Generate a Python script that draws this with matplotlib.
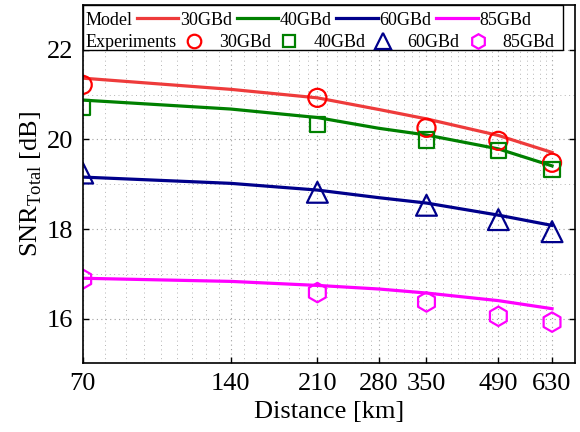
import numpy as np
import matplotlib
matplotlib.use('Agg')
import matplotlib.pyplot as plt
from matplotlib.lines import Line2D
from matplotlib.patches import Rectangle
from matplotlib.ticker import FixedLocator, NullFormatter

plt.rcParams['font.family'] = ['Liberation Serif', 'DejaVu Serif']
plt.rcParams['mathtext.fontset'] = 'custom'
plt.rcParams['mathtext.rm'] = 'Liberation Serif'

# model curves (distance in km, SNR in dB)
dist_model = [70, 140, 210, 280, 350, 490, 630]
model_30 = [21.37, 21.12, 20.93, 20.67, 20.46, 20.09, 19.71]
model_40 = [20.88, 20.68, 20.49, 20.25, 20.10, 19.79, 19.41]
model_60 = [19.16, 19.02, 18.87, 18.70, 18.58, 18.31, 18.08]
model_85 = [16.90, 16.83, 16.74, 16.66, 16.57, 16.40, 16.22]

# measured points
dist_exp = [70, 210, 350, 490, 630]
exp_30 = [21.22, 20.93, 20.26, 19.97, 19.48]
exp_40 = [20.71, 20.33, 19.99, 19.76, 19.33]
exp_60 = [19.25, 18.82, 18.53, 18.21, 17.94]
exp_85 = [16.88, 16.58, 16.37, 16.05, 15.92]

xticks = [70, 140, 210, 280, 350, 490, 630]
rates = ['30GBd', '40GBd', '60GBd', '85GBd']
line_colors = ['#EE3B3B', '#008000', '#00008B', '#FF00FF']
mark_colors = ['#FF0000', '#008000', '#00008B', '#FF00FF']
markers = ['o', 's', '^', 'h']
msizes = [13, 11, 15, 14]

fig = plt.figure(figsize=(5.8, 4.32), dpi=100)
ax = fig.add_axes([0.1426, 0.159, 0.848, 0.829])

models = [model_30, model_40, model_60, model_85]
exps = [exp_30, exp_40, exp_60, exp_85]

line_handles = []
mark_handles = []
for m, c in zip(models, line_colors):
    h, = ax.plot(dist_model, m, color=c, lw=2.3, zorder=3)
    line_handles.append(h)
for e, c, mk, ms in zip(exps, mark_colors, markers, msizes):
    ax.scatter(dist_exp, e, s=ms ** 2, marker=mk, facecolors='none',
               edgecolors=c, linewidths=1.6, zorder=4)
    # proxy for the legend entry
    mark_handles.append(Line2D([], [], ls='none', marker=mk, ms=ms * 0.75,
                               mfc='none', mec=c, mew=1.6))

ax.set_xscale('log')
ax.set_xlim(70, 700)
ax.set_ylim(15, 23)
ax.set_xticks(xticks)
ax.set_xticklabels([str(t) for t in xticks])
ax.set_yticks([16, 18, 20, 22])

# dense minor grid between major ticks
parts = [9, 8, 7, 6, 10, 8]
minor_x = []
for a, b, n in zip(xticks[:-1], xticks[1:], parts):
    minor_x += list(np.linspace(a, b, n + 1)[1:-1])
ax.xaxis.set_minor_locator(FixedLocator(minor_x))
ax.xaxis.set_minor_formatter(NullFormatter())
ax.yaxis.set_minor_locator(FixedLocator([15, 17, 19, 21]))

ax.grid(True, which='major', color='#A0A0A0', ls=(0, (1, 3)), lw=0.8)
ax.grid(True, which='minor', color='#B4B4B4', ls=(0, (1, 3.5)), lw=0.7)
ax.set_axisbelow(True)

ax.tick_params(which='major', direction='in', length=4.5, width=1.0,
               top=True, right=True, labelsize=19, pad=7)
ax.tick_params(which='minor', length=0)
for s in ax.spines.values():
    s.set_linewidth(1.2)
    s.set_zorder(5)

ax.set_xlabel('Distance [km]', fontsize=19, labelpad=4)
ax.set_ylabel(r'SNR$_{\mathrm{Total}}$ [dB]', fontsize=19, labelpad=2)

# legend box spanning the top of the axes
ax.add_patch(Rectangle((0, 0.874), 0.9756, 0.126, transform=ax.transAxes,
                       facecolor='white', edgecolor='black', lw=1.0,
                       zorder=4.5, clip_on=False))

blank = Line2D([], [], ls='none')
leg_kw = dict(ncol=5, frameon=False, fontsize=13, markerfirst=False,
              borderpad=0, borderaxespad=0, loc='center left')
leg1 = ax.legend(line_handles + [blank], ['Model'] + rates,
                 bbox_to_anchor=(0.005, 0.958), handlelength=2.3,
                 handletextpad=0.25, columnspacing=0.1, **leg_kw)
ax.add_artist(leg1)
leg2 = ax.legend(mark_handles + [blank], ['Experiments'] + rates,
                 bbox_to_anchor=(0.005, 0.896), handlelength=2.0,
                 handletextpad=0.0, columnspacing=0.35, **leg_kw)
leg1.set_zorder(6)
leg2.set_zorder(6)

fig.savefig('out.png', dpi=100)
